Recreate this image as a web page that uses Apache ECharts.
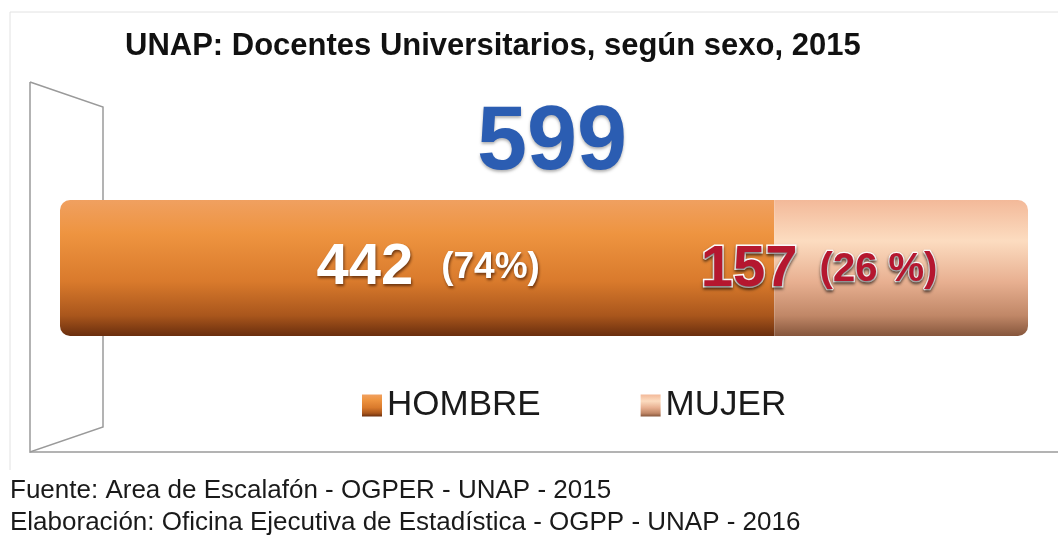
<!DOCTYPE html>
<html>
<head>
<meta charset="utf-8">
<script src="https://cdn.jsdelivr.net/npm/echarts@6/dist/echarts.min.js"></script>
<style>
  html, body { margin: 0; padding: 0; background: #fff; }
  #chart { width: 1058px; height: 543px; }
</style>
</head>
<body>
<div id="chart"></div>
<script>
var titulo = 'UNAP: Docentes Universitarios, según sexo, 2015';
var categorias = ['HOMBRE', 'MUJER'];
var docentes = [442, 157];
var fuente = 'Fuente: Area de Escalafón - OGPER - UNAP - 2015';
var elaboracion = 'Elaboración: Oficina Ejecutiva de Estadística - OGPP - UNAP - 2016';

var total = docentes[0] + docentes[1];
var pct = function (v) { return Math.round(v / total * 100); };

var grad = function (stops) {
    return new echarts.graphic.LinearGradient(0, 0, 0, 1, stops);
};
var colHombre = grad([
    { offset: 0, color: '#f0a060' },
    { offset: 0.25, color: '#ee9440' },
    { offset: 0.6, color: '#d97a2c' },
    { offset: 0.85, color: '#a9561c' },
    { offset: 1, color: '#6a2e0e' }
]);
var colMujer = grad([
    { offset: 0, color: '#f3b999' },
    { offset: 0.3, color: '#fcdcc0' },
    { offset: 0.6, color: '#e8b091' },
    { offset: 0.85, color: '#c08767' },
    { offset: 1, color: '#86563c' }
]);

var fam = '"Liberation Sans", sans-serif';
var sombra = { textShadowColor: 'rgba(60,20,0,0.7)', textShadowBlur: 3, textShadowOffsetX: 1, textShadowOffsetY: 2 };

var option = {
    backgroundColor: '#ffffff',
    animation: false,
    title: [
        {
            text: titulo,
            left: 120, top: 26,
            textStyle: { fontFamily: fam, fontSize: 31, fontWeight: 'bold', color: '#111' }
        },
        {
            text: String(total),
            left: 472, top: 94,
            textStyle: {
                fontFamily: fam, fontSize: 90, fontWeight: 'bold', color: '#2b5db2',
                textShadowColor: 'rgba(0,0,0,0.3)', textShadowBlur: 3, textShadowOffsetY: 2
            }
        },
        {
            text: fuente,
            left: 5, top: 473,
            textStyle: { fontFamily: fam, fontSize: 26, fontWeight: 'normal', color: '#1a1a1a' }
        },
        {
            text: elaboracion,
            left: 5, top: 505,
            textStyle: { fontFamily: fam, fontSize: 26, fontWeight: 'normal', color: '#1a1a1a' }
        }
    ],
    legend: {
        data: categorias,
        left: 357, top: 383,
        icon: 'rect',
        itemWidth: 20, itemHeight: 22,
        itemGap: 100,
        textStyle: { fontFamily: fam, fontSize: 35, color: '#1a1a1a' }
    },
    graphic: [
        { type: 'polyline', shape: { points: [[10, 470], [10, 12], [1058, 12]] },
          style: { stroke: '#e2e2e2', lineWidth: 1, fill: null }, silent: true },
        { type: 'polyline', shape: { points: [[30, 82], [103, 107], [103, 427], [30, 452], [30, 82]] },
          style: { stroke: '#9a9a9a', lineWidth: 1.5, fill: null }, z: -1, silent: true },
        { type: 'line', shape: { x1: 30, y1: 452, x2: 1058, y2: 452 },
          style: { stroke: '#9a9a9a', lineWidth: 1.5 }, z: -1, silent: true }
    ],
    grid: { left: 60, right: 30, top: 200, height: 136 },
    xAxis: { type: 'value', min: 0, max: total, show: false },
    yAxis: { type: 'category', data: [''], show: false },
    series: [
        {
            name: categorias[0], type: 'bar', stack: 'docentes', barWidth: '100%',
            data: [docentes[0]],
            itemStyle: { color: colHombre, borderRadius: [10, 0, 0, 10] },
            label: {
                show: true, position: 'inside', offset: [11, 0],
                formatter: '{a|' + docentes[0] + '}{b|(' + pct(docentes[0]) + '%)}',
                rich: {
                    a: Object.assign({ fontFamily: fam, fontSize: 58, fontWeight: 'bold', color: '#fff', padding: [0, 28, 0, 0] }, sombra),
                    b: Object.assign({ fontFamily: fam, fontSize: 37, fontWeight: 'bold', color: '#fff' }, sombra)
                }
            }
        },
        {
            name: categorias[1], type: 'bar', stack: 'docentes', barWidth: '100%',
            data: [docentes[1]],
            itemStyle: { color: colMujer, borderRadius: [0, 10, 10, 0] },
            label: {
                show: true, position: 'inside', offset: [-82, 2],
                formatter: '{a|' + docentes[1] + '}{b|(' + pct(docentes[1]) + ' %)}',
                rich: {
                    a: { fontFamily: fam, fontSize: 58, fontWeight: 'bold', color: '#b5172f', padding: [0, 22, 0, 0],
                         textBorderColor: '#fff', textBorderWidth: 3,
                         textShadowColor: 'rgba(0,0,0,0.5)', textShadowBlur: 3, textShadowOffsetY: 2 },
                    b: { fontFamily: fam, fontSize: 40, fontWeight: 'bold', color: '#b5172f',
                         textBorderColor: '#fff', textBorderWidth: 2.5,
                         textShadowColor: 'rgba(0,0,0,0.5)', textShadowBlur: 3, textShadowOffsetY: 2 }
                }
            }
        }
    ]
};

var chart = echarts.init(document.getElementById('chart'));
chart.setOption(option);
</script>
</body>
</html>
